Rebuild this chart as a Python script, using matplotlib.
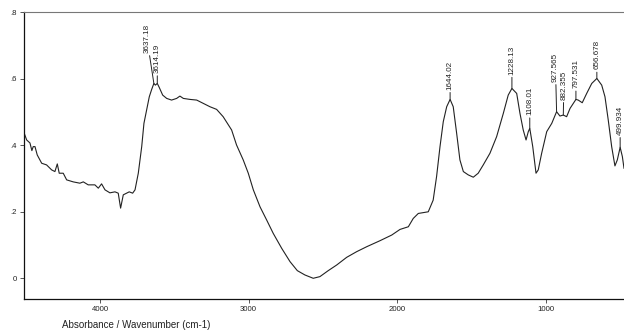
import numpy as np
import matplotlib
matplotlib.use("Agg")
import matplotlib.pyplot as plt

plt.rcParams['font.family'] = ['Liberation Sans', 'DejaVu Sans']

# IR spectrum, wavenumber (cm-1) vs absorbance
wavenumber = [4511, 4493, 4471, 4458, 4449, 4437, 4422, 4392, 4359, 4325,
              4303, 4287, 4274, 4247, 4224, 4180, 4135, 4112, 4079, 4034,
              4011, 3989, 3966, 3933, 3899, 3877, 3861, 3843, 3820, 3803,
              3780, 3764, 3742, 3719, 3704, 3686, 3668, 3652, 3637.18, 3627,
              3614.19, 3601, 3578, 3551, 3518, 3484, 3462, 3439, 3394, 3349,
              3305, 3260, 3215, 3171, 3114, 3081, 3036, 3002, 2968, 2923,
              2878, 2834, 2777, 2721, 2672, 2621, 2565, 2520, 2464, 2407,
              2340, 2273, 2205, 2116, 2037, 1981, 1925, 1892, 1858, 1791,
              1758, 1735, 1712, 1690, 1667, 1644.02, 1623, 1600, 1578, 1555,
              1522, 1488, 1455, 1421, 1376, 1331, 1286, 1253, 1228.13, 1196,
              1174, 1152, 1133, 1118, 1108.01, 1088, 1066, 1051, 1028, 994,
              960, 927.565, 905, 882.355, 860, 837, 797.531, 782, 755, 725,
              691, 656.678, 624, 602, 580, 557, 535, 519, 499.934, 485, 474]
absorbance = [0.438, 0.416, 0.407, 0.384, 0.396, 0.396, 0.371, 0.346, 0.341, 0.326,
              0.321, 0.344, 0.316, 0.316, 0.296, 0.290, 0.286, 0.290, 0.281, 0.281,
              0.271, 0.284, 0.266, 0.257, 0.260, 0.256, 0.211, 0.251, 0.256, 0.260,
              0.256, 0.266, 0.316, 0.396, 0.466, 0.506, 0.546, 0.568, 0.586, 0.581,
              0.586, 0.574, 0.551, 0.541, 0.536, 0.541, 0.548, 0.541, 0.538, 0.536,
              0.526, 0.516, 0.508, 0.486, 0.446, 0.401, 0.356, 0.316, 0.266, 0.215,
              0.175, 0.135, 0.090, 0.050, 0.023, 0.010, 0.000, 0.005, 0.023, 0.040,
              0.063, 0.080, 0.095, 0.113, 0.130, 0.147, 0.155, 0.180, 0.195, 0.200,
              0.235, 0.306, 0.396, 0.471, 0.516, 0.538, 0.516, 0.436, 0.356, 0.321,
              0.311, 0.304, 0.316, 0.341, 0.376, 0.426, 0.496, 0.551, 0.571, 0.556,
              0.496, 0.446, 0.416, 0.441, 0.451, 0.396, 0.316, 0.326, 0.376, 0.441,
              0.466, 0.501, 0.488, 0.491, 0.486, 0.511, 0.538, 0.536, 0.528, 0.556,
              0.586, 0.601, 0.581, 0.546, 0.476, 0.396, 0.338, 0.356, 0.394, 0.366, 0.331]

# picked peaks
peaks = [3637.18, 3614.19, 1644.02, 1228.13, 1108.01, 927.565, 882.355,
         797.531, 656.678, 499.934]
peak_labels = ['3637.18', '3614.19', '1644.02', '1228.13', '1108.01',
               '927.565', '882.355', '797.531', '656.678', '499.934']
# label offsets (points): dx, dy
label_offsets = [(-5, 22), (0, 7.5), (0, 7), (0, 10), (0, 9.5), (-0.8, 21.5),
                 (0.4, 11), (0, 8), (0, 6.5), (0, 9)]

x = np.array(wavenumber)
y = np.array(absorbance)

fig = plt.figure(figsize=(6.24, 3.34), dpi=100)
ax = fig.add_axes([24 / 624, 35.3 / 334, 600 / 624, 286.4 / 334])
ax.plot(x, y, color='#222222', lw=0.8)

for wn, lab, (dx, dy) in zip(peaks, peak_labels, label_offsets):
    a = np.interp(wn, x[::-1], y[::-1])
    ax.annotate(lab, xy=(wn, a), xytext=(dx, dy), textcoords='offset points',
                rotation=90, ha='center', va='bottom', fontsize=5.8,
                color='#222222',
                arrowprops=dict(arrowstyle='-', color='#222222', lw=0.7,
                                shrinkA=0, shrinkB=0))

ax.set_xlim(4511, 474)
ax.set_ylim(-0.0614, 0.8)
ax.set_xticks([4000, 3000, 2000, 1000])
ax.set_xticklabels(['4000', '3000', '2000', '1000'])
ax.set_yticks([0, 0.2, 0.4, 0.6, 0.8])
ax.set_yticklabels(['0', '.2', '.4', '.6', '.8'])
ax.tick_params(axis='both', labelsize=5.6, length=3, width=0.7,
               color='#555555', labelcolor='#222222', pad=2)

ax.spines['right'].set_visible(False)
ax.spines['top'].set_color('#777777')
ax.spines['top'].set_linewidth(0.8)
for s in ('left', 'bottom'):
    ax.spines[s].set_color('#111111')
    ax.spines[s].set_linewidth(0.9)

fig.text(62 / 624, 9 / 334, 'Absorbance / Wavenumber (cm-1)', fontsize=7,
         color='#222222', ha='left', va='center')

fig.savefig('out.png', dpi=100)
